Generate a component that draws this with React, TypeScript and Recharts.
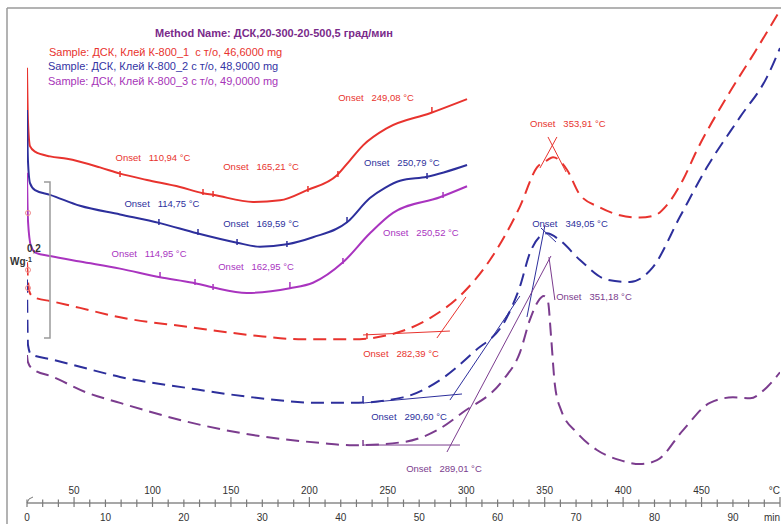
import React from 'react';
import { LineChart, Line, XAxis, YAxis, ReferenceLine, ReferenceDot } from 'recharts';

// ---- data (temperature °C, heat flow W/g, curves offset as in the picture) ----
const redSolidT = [20.0, 20.6, 21.9, 25.1, 34.7, 45.5, 66.5, 79.3, 96.5, 117.5, 132.2, 138.6, 164.1, 181.3, 198.5, 217.6, 225.9, 234.2, 249.5, 276.9, 300.5];
const redSolidV = [0.538, 0.471, 0.438, 0.431, 0.425, 0.422, 0.411, 0.403, 0.395, 0.386, 0.378, 0.376, 0.367, 0.369, 0.382, 0.401, 0.420, 0.439, 0.461, 0.480, 0.498];

const blueSolidT = [20.0, 20.6, 21.9, 25.1, 34.7, 53.8, 79.3, 104.8, 128.4, 153.9, 168.5, 185.7, 202.3, 224.0, 238.6, 248.2, 257.8, 275.0, 300.5];
const blueSolidV = [0.484, 0.420, 0.391, 0.382, 0.376, 0.362, 0.351, 0.340, 0.327, 0.315, 0.310, 0.313, 0.322, 0.341, 0.372, 0.385, 0.394, 0.399, 0.414];

const purpleSolidT = [20.0, 20.6, 22.5, 25.7, 34.7, 53.8, 79.3, 104.8, 125.8, 138.6, 160.2, 187.6, 202.3, 221.4, 238.6, 253.3, 283.2, 300.5];
const purpleSolidV = [0.404, 0.344, 0.311, 0.302, 0.298, 0.291, 0.282, 0.271, 0.264, 0.258, 0.251, 0.257, 0.264, 0.290, 0.327, 0.353, 0.373, 0.387];

const redDashT = [20.0, 21.3, 23.8, 36.6, 53.8, 79.3, 122.0, 164.1, 195.9, 227.8, 249.5, 276.9, 297.9, 315.1, 334.2, 345.1, 351.5, 355.3, 364.2, 372.5, 385.2, 398.0, 410.7, 420.3, 427.9, 438.1, 447.1, 466.8, 484.0, 500.0];
const redDashV = [0.290, 0.254, 0.246, 0.240, 0.232, 0.220, 0.208, 0.197, 0.192, 0.192, 0.197, 0.219, 0.251, 0.293, 0.361, 0.411, 0.420, 0.424, 0.408, 0.376, 0.360, 0.350, 0.347, 0.350, 0.363, 0.395, 0.433, 0.503, 0.558, 0.611];

const blueDashT = [20.0, 20.6, 22.5, 36.6, 53.8, 79.3, 122.0, 164.1, 206.8, 227.8, 259.7, 283.2, 304.3, 325.9, 334.2, 340.6, 347.0, 351.4, 359.7, 372.5, 389.7, 404.3, 419.0, 436.2, 453.4, 474.5, 491.7, 500.0];
const blueDashV = [0.268, 0.185, 0.173, 0.166, 0.157, 0.144, 0.130, 0.118, 0.111, 0.111, 0.118, 0.140, 0.175, 0.220, 0.259, 0.302, 0.323, 0.327, 0.318, 0.293, 0.268, 0.265, 0.284, 0.348, 0.411, 0.475, 0.526, 0.563];

const purpleDashT = [20.0, 20.6, 23.2, 36.6, 58.2, 79.3, 122.0, 164.1, 206.8, 227.8, 259.7, 281.3, 297.9, 323.4, 334.2, 340.6, 345.7, 349.5, 352.1, 354.0, 356.5, 360.4, 370.6, 383.3, 398.0, 410.7, 421.6, 438.1, 455.3, 470.0, 480.9, 491.7, 500.0];
const purpleDashV = [0.172, 0.163, 0.155, 0.144, 0.124, 0.111, 0.087, 0.070, 0.060, 0.057, 0.061, 0.076, 0.099, 0.140, 0.175, 0.217, 0.240, 0.247, 0.240, 0.197, 0.134, 0.102, 0.073, 0.051, 0.038, 0.033, 0.038, 0.076, 0.111, 0.118, 0.117, 0.131, 0.150];

const tempLabels = [50, 100, 150, 200, 250, 300, 350, 400, 450];
const minuteLabels = [0, 10, 20, 30, 40, 50, 60, 70, 80, 90];

const RED = '#e8332e';
const BLUE = '#2d2f9c';
const PURPLE = '#a934bf';
const DPURPLE = '#7b3c8e';

const zip = (t: number[], v: number[]) => t.map((T, i) => ({ T, v: v[i] }));

const series = [
  { key: 'rs', data: zip(redSolidT, redSolidV), color: RED, dash: undefined as string | undefined },
  { key: 'bs', data: zip(blueSolidT, blueSolidV), color: BLUE, dash: undefined },
  { key: 'ps', data: zip(purpleSolidT, purpleSolidV), color: PURPLE, dash: undefined },
  { key: 'rd', data: zip(redDashT, redDashV), color: RED, dash: '13 7' },
  { key: 'bd', data: zip(blueDashT, blueDashV), color: BLUE, dash: '13 7' },
  { key: 'pd', data: zip(purpleDashT, purpleDashV), color: DPURPLE, dash: '13 7' },
];

const onsetLabels = [
  { T: 100.3, v: 0.4242, text: 'Onset   110,94 °C', color: RED },
  { T: 169.2, v: 0.4115, text: 'Onset   165,21 °C', color: RED },
  { T: 242.5, v: 0.4994, text: 'Onset   249,08 °C', color: RED },
  { T: 106.0, v: 0.3656, text: 'Onset   114,75 °C', color: BLUE },
  { T: 169.2, v: 0.3401, text: 'Onset   169,59 °C', color: BLUE },
  { T: 259.0, v: 0.4178, text: 'Onset   250,79 °C', color: BLUE },
  { T: 97.8, v: 0.3019, text: 'Onset   114,95 °C', color: PURPLE },
  { T: 166.0, v: 0.2841, text: 'Onset   162,95 °C', color: PURPLE },
  { T: 271.1, v: 0.3274, text: 'Onset   250,52 °C', color: PURPLE },
  { T: 258.4, v: 0.1745, text: 'Onset   282,39 °C', color: RED },
  { T: 263.5, v: 0.0930, text: 'Onset   290,60 °C', color: BLUE },
  { T: 285.8, v: 0.0280, text: 'Onset   289,01 °C', color: DPURPLE },
  { T: 364.8, v: 0.4675, text: 'Onset   353,91 °C', color: RED },
  { T: 366.1, v: 0.3401, text: 'Onset   349,05 °C', color: BLUE },
  { T: 381.4, v: 0.2471, text: 'Onset   351,18 °C', color: DPURPLE },
];

const tangents = [
  { a: [234.2, 0.1975], b: [289.6, 0.2025], color: RED },
  { a: [281.3, 0.1936], b: [299.8, 0.2459], color: RED },
  { a: [234.2, 0.1108], b: [297.3, 0.1223], color: BLUE },
  { a: [289.6, 0.1146], b: [334.2, 0.2471], color: BLUE },
  { a: [338.7, 0.2204], b: [350.2, 0.3376], color: BLUE },
  { a: [347.6, 0.3338], b: [357.2, 0.3159], color: BLUE },
  { a: [234.2, 0.0573], b: [296.0, 0.0573], color: DPURPLE },
  { a: [287.7, 0.0484], b: [354.0, 0.2981], color: DPURPLE },
  { a: [352.7, 0.2968], b: [356.5, 0.2420], color: DPURPLE },
  { a: [347.0, 0.4102], b: [357.8, 0.4497], color: RED },
  { a: [352.1, 0.4497], b: [363.6, 0.4051], color: RED },
];

const curveTicks = [
  { T: 79.3, v: 0.4013, color: RED }, { T: 132.2, v: 0.3783, color: RED }, { T: 138.6, v: 0.3758, color: RED },
  { T: 199.1, v: 0.3822, color: RED }, { T: 218.2, v: 0.4013, color: RED }, { T: 278.1, v: 0.4828, color: RED },
  { T: 104.1, v: 0.3401, color: BLUE }, { T: 129.0, v: 0.3274, color: BLUE }, { T: 153.9, v: 0.3146, color: BLUE },
  { T: 185.7, v: 0.3121, color: BLUE }, { T: 224.0, v: 0.3427, color: BLUE }, { T: 275.0, v: 0.3987, color: BLUE },
  { T: 104.8, v: 0.2726, color: PURPLE }, { T: 127.1, v: 0.2637, color: PURPLE }, { T: 138.6, v: 0.2573, color: PURPLE },
  { T: 187.6, v: 0.2599, color: PURPLE }, { T: 221.4, v: 0.2904, color: PURPLE }, { T: 285.2, v: 0.3745, color: PURPLE },
  { T: 236.7, v: 0.1949, color: RED }, { T: 234.2, v: 0.1146, color: BLUE }, { T: 234.2, v: 0.0586, color: DPURPLE },
];

const startMarks = [0.3529, 0.2803, 0.2573];

const xTicks = Array.from({ length: 49 }, (_, i) => 20 + i * 10);
const FONT = '"Liberation Sans", Arial, Helvetica, sans-serif';

const AxisTick = (props: any) => {
  const { x, y, payload } = props;
  const T = payload.value as number;
  const isMajor = T % 50 === 0;
  const minute = (T - 20) / 5;
  const out: any[] = [];
  out.push(<line key="t" x1={x} x2={x} y1={y - (isMajor ? 6 : 3.5)} y2={y + 4} stroke="#7a7a7a" strokeWidth={1.2} />);
  if (T === 20) {
    out.push(<polyline key="o" points={`${x},${y} ${x + 2},${y - 4} ${x + 6},${y - 6}`} fill="none" stroke="#7a7a7a" strokeWidth={1} />);
  }
  if (tempLabels.includes(T)) {
    out.push(<text key="c" x={x} y={y - 9} textAnchor="middle" fontSize={10} fontFamily={FONT} fill="#333">{T}</text>);
  }
  if (minuteLabels.includes(minute)) {
    out.push(<text key="m" x={x} y={y + 18} textAnchor="middle" fontSize={10} fontFamily={FONT} fill="#333">{minute}</text>);
  }
  if (T === 500) {
    out.push(<text key="cu" x={x} y={y - 9} textAnchor="end" fontSize={10} fontFamily={FONT} fill="#333">°C</text>);
    out.push(<text key="mu" x={x} y={y + 18} textAnchor="end" fontSize={10} fontFamily={FONT} fill="#333">min</text>);
  }
  return <g>{out}</g>;
};

export default function App() {
  return (
    <div style={{ position: 'absolute', left: 0, top: 0, width: 781, height: 524, background: '#fff', overflow: 'hidden' }}>
      <LineChart width={781} height={524} margin={{ top: 8, right: 1, left: 27, bottom: 0 }}>
        <XAxis
          dataKey="T"
          type="number"
          domain={[20, 500]}
          allowDataOverflow
          ticks={xTicks}
          interval={0}
          tick={<AxisTick />}
          tickLine={false}
          tickSize={0}
          tickMargin={0}
          height={21}
          axisLine={{ stroke: '#8a8a8a', strokeWidth: 1.5 }}
        />
        <YAxis hide width={0} type="number" domain={[-0.01656, 0.61401]} allowDataOverflow />
        {tangents.map((s, i) => (
          <ReferenceLine key={'tg' + i} segment={[{ x: s.a[0], y: s.a[1] }, { x: s.b[0], y: s.b[1] }]} stroke={s.color} strokeWidth={1} ifOverflow="visible" />
        ))}
        {series.map((s) => (
          <Line
            key={s.key}
            data={s.data}
            dataKey="v"
            type="monotone"
            stroke={s.color}
            strokeWidth={2}
            strokeDasharray={s.dash}
            dot={false}
            activeDot={false}
            isAnimationActive={false}
          />
        ))}
        {curveTicks.map((c, i) => (
          <ReferenceDot key={'ct' + i} x={c.T} y={c.v} r={0} ifOverflow="visible"
            shape={(p: any) => <line x1={p.cx} x2={p.cx} y1={p.cy - 4} y2={p.cy + 2} stroke={c.color} strokeWidth={1.5} />} />
        ))}
        {startMarks.map((m, i) => (
          <ReferenceDot key={'sm' + i} x={20} y={m} r={0} ifOverflow="visible"
            shape={(p: any) => <circle cx={p.cx + 1} cy={p.cy} r={2.5} fill="none" stroke="#ef8a8a" strokeWidth={1} />} />
        ))}
        {onsetLabels.map((a, i) => (
          <ReferenceDot key={'ol' + i} x={a.T} y={a.v} r={0} ifOverflow="visible"
            shape={(p: any) => (
              <text x={p.cx} y={p.cy + 3.5} textAnchor="middle" fontSize={9.5} fontFamily={FONT} fill={a.color} style={{ whiteSpace: 'pre' }}>{a.text}</text>
            )} />
        ))}
      </LineChart>
      <svg width={781} height={524} style={{ position: 'absolute', left: 0, top: 0, pointerEvents: 'none' }}>
        <line x1={7} y1={8} x2={781} y2={8} stroke="#9a9a9a" strokeWidth={1.5} />
        <line x1={7} y1={8} x2={7} y2={524} stroke="#9a9a9a" strokeWidth={1.5} />
        <text x={155} y={37} fontSize={11} fontWeight="bold" fontFamily={FONT} fill="#7a2a8a">Method Name: ДСК,20-300-20-500,5 град/мин</text>
        <text x={49} y={56} fontSize={11} fontFamily={FONT} fill={RED} style={{ whiteSpace: 'pre' }}>Sample: ДСК, Клей К-800_1  с т/о, 46,6000 mg</text>
        <text x={48} y={70} fontSize={11} fontFamily={FONT} fill="#3434a4">Sample: ДСК, Клей К-800_2 с т/о, 48,9000 mg</text>
        <text x={48} y={85} fontSize={11} fontFamily={FONT} fill="#a634b8">Sample: ДСК, Клей К-800_3 с т/о, 49,0000 mg</text>
        <polyline points="44,182 50,182 50,338 44,338" fill="none" stroke="#9a9a9a" strokeWidth={1.5} />
        <text x={27} y={252} fontSize={10} fontWeight="bold" fontFamily={FONT} fill="#333">0,2</text>
        <text x={10} y={265} fontSize={10} fontWeight="bold" fontFamily={FONT} fill="#333">Wg<tspan dy={-3} fontSize={7}>-1</tspan></text>
      </svg>
    </div>
  );
}
